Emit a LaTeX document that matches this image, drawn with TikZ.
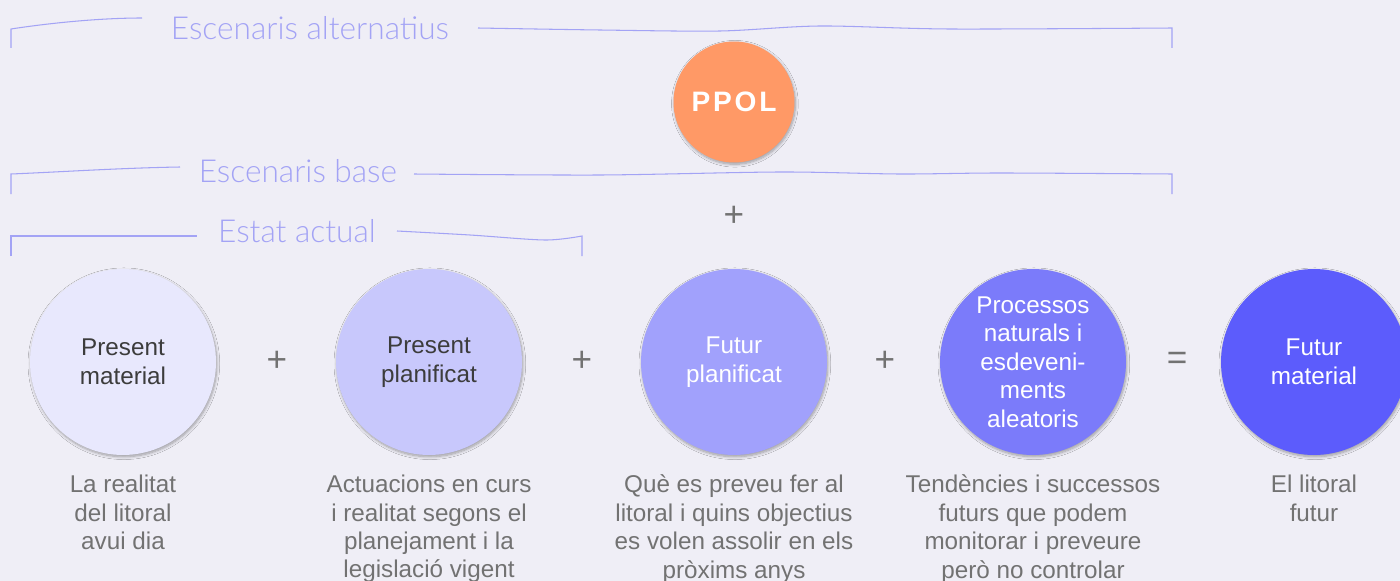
\documentclass[tikz,border=0pt]{standalone}
\usepackage{fontspec}
\setmainfont{Liberation Sans}
\newfontfamily\handfont{Lato Light}
\usepackage{xcolor}
\usetikzlibrary{positioning, shadows.blur}
\definecolor{bgcol}{HTML}{EFEEF6}
\definecolor{lineblue}{HTML}{A3A3F5}
\definecolor{txtgray}{HTML}{727272}
\definecolor{darktxt}{HTML}{3C3C3C}
\definecolor{cOne}{HTML}{E8E8FD}
\definecolor{cTwo}{HTML}{C8C8FC}
\definecolor{cThree}{HTML}{A1A1FC}
\definecolor{cFour}{HTML}{7B7BFA}
\definecolor{cFive}{HTML}{5C5CFC}
\definecolor{ppolorange}{HTML}{FF9966}

\begin{document}
\begin{tikzpicture}[x=0.02cm, y=-0.02cm,
    disc/.style={circle, minimum size=3.72cm, inner sep=0pt, align=center,
      font=\fontsize{13.8}{16.2}\selectfont,
      blur shadow={shadow xshift=0.5pt, shadow yshift=-1pt,
        shadow blur radius=1.6pt, shadow blur steps=8, shadow opacity=35}},
    lightdisc/.style={disc, text=darktxt},
    darkdisc/.style={disc, text=white},
    desc/.style={align=center, text=txtgray, inner sep=0pt,
      font=\fontsize{13.8}{16.2}\selectfont},
    op/.style={text=txtgray, font=\fontsize{20}{20}\selectfont},
    bracket/.style={draw=lineblue, line width=0.6pt},
    scen/.style={text=lineblue, font=\handfont\fontsize{18}{18}\selectfont},
  ]
    \fill[bgcol] (0,0) rectangle (1400,581);
    \useasboundingbox (0,0) rectangle (1400,581);

    % Scenario brackets
    \node[scen] (alt)  at (310,28)  {Escenaris alternatius};
    \node[scen] (base) at (298,171) {Escenaris base};
    \node[scen] (act)  at (297,231) {Estat actual};

    \draw[bracket] (11,48) -- (11,29) .. controls (50,23) and (100,18) .. (142,18);
    \draw[bracket] plot[smooth] coordinates {(478,28) (600,30) (720,31) (820,26) (950,29) (1172,28)} -- (1172,48);
    \draw[bracket] (11,194) -- (11,174) .. controls (60,172) and (120,168) .. (180,167);
    \draw[bracket] plot[smooth] coordinates {(414,174) (600,175) (780,172) (900,174) (1000,173) (1172,174)} -- (1172,194);
    \draw[bracket] (11,256) -- (11,236) -- (197,236);
    \draw[bracket] plot[smooth] coordinates {(397,231) (470,235) (545,240) (582,236)} -- (582,256);

    % Policy node
    \node[darkdisc, fill=ppolorange, minimum size=2.42cm,
      font=\fontsize{16}{16}\selectfont\bfseries\addfontfeatures{LetterSpace=10}] (ppol) at (734,102) {PPOL};

    % Row of circles
    \node[lightdisc, fill=cOne]  (pres) at (123,362)  {Present\\material};
    \node[lightdisc, fill=cTwo]  (plan) at (429,362)  {Present\\planificat};
    \node[darkdisc, fill=cThree] (fut)  at (734,362)  {Futur\\planificat};
    \node[darkdisc, fill=cFour]  (proc) at (1033,362) {Processos\\naturals i\\esdeveni-\\ments\\aleatoris};
    \node[darkdisc, fill=cFive]  (mat)  at (1314,362) {Futur\\material};

    % Operators
    \node[op] (opA) at (277,361)  {+};
    \node[op] (opB) at (582,361)  {+};
    \node[op] (opC) at (885,361)  {+};
    \node[op] (opD) at (1177,361) {=};
    \node[op] (opE) at (734,216)  {+};

    % Descriptions
    \node[desc, below=11pt of pres] (dPres) {La realitat\\del litoral\\avui dia};
    \node[desc, below=11pt of plan] (dPlan) {Actuacions en curs\\i realitat segons el\\planejament i la\\legislació vigent};
    \node[desc, below=11pt of fut]  (dFut)  {Què es preveu fer al\\litoral i quins objectius\\es volen assolir en els\\pròxims anys};
    \node[desc, below=11pt of proc] (dProc) {Tendències i successos\\futurs que podem\\monitorar i preveure\\però no controlar};
    \node[desc, below=11pt of mat]  (dMat)  {El litoral\\futur};
  \end{tikzpicture}
\end{document}
